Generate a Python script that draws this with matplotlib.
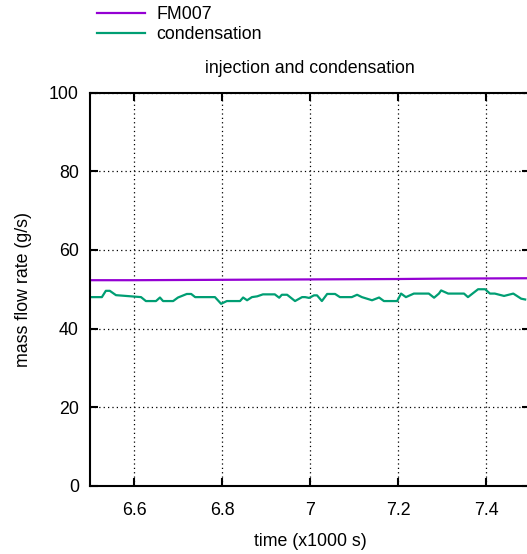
import matplotlib
matplotlib.use("Agg")
import matplotlib.pyplot as plt
from matplotlib.ticker import FixedLocator, FixedFormatter

plt.rcParams['font.family'] = ['Liberation Sans', 'DejaVu Sans']

# ---- data ----
fm007_t = [6.50, 6.60, 6.70, 6.80, 6.90, 7.00, 7.10, 7.20, 7.30, 7.40, 7.50]
fm007_v = [52.3, 52.3, 52.35, 52.4, 52.45, 52.5, 52.55, 52.6, 52.7, 52.75, 52.8]

cond_t = [6.500, 6.527, 6.536, 6.545, 6.559, 6.616, 6.627, 6.650, 6.659, 6.666,
          6.689, 6.700, 6.720, 6.730, 6.739, 6.784, 6.798, 6.811, 6.841, 6.848,
          6.857, 6.868, 6.880, 6.893, 6.920, 6.930, 6.936, 6.948, 6.966, 6.982,
          6.989, 6.998, 7.009, 7.016, 7.027, 7.039, 7.057, 7.068, 7.095, 7.107,
          7.118, 7.141, 7.157, 7.168, 7.198, 7.207, 7.218, 7.236, 7.270, 7.282,
          7.293, 7.298, 7.314, 7.350, 7.359, 7.382, 7.398, 7.409, 7.420, 7.441,
          7.462, 7.480, 7.489]
cond_v = [48.0, 48.0, 49.6, 49.6, 48.5, 48.0, 47.0, 47.0, 47.9, 47.0,
          47.0, 47.9, 48.8, 48.8, 48.0, 48.0, 46.3, 47.0, 47.0, 47.9,
          47.2, 48.0, 48.2, 48.7, 48.7, 47.85, 48.6, 48.6, 47.0, 48.0,
          48.0, 47.8, 48.45, 48.45, 47.0, 48.8, 48.8, 48.0, 48.0, 48.6,
          48.0, 47.2, 47.9, 47.0, 47.0, 48.9, 48.0, 48.9, 48.9, 47.85,
          48.9, 49.7, 48.9, 48.9, 48.0, 50.0, 50.0, 48.9, 48.9, 48.3,
          48.9, 47.6, 47.4]

x_ticks = [6.6, 6.8, 7.0, 7.2, 7.4]
x_tick_labels = ["6.6", "6.8", "7", "7.2", "7.4"]
y_ticks = [0, 20, 40, 60, 80, 100]
y_tick_labels = ["0", "20", "40", "60", "80", "100"]

W, H = 527, 554
fig = plt.figure(figsize=(W / 100, H / 100), dpi=100)
ax = fig.add_axes([90 / W, 1 - 486 / H, 440 / W, (486 - 92.5) / H])

fs = 12.8
l1, = ax.plot(fm007_t, fm007_v, color='#9400D3', lw=1.6, label='FM007')
l2, = ax.plot(cond_t, cond_v, color='#009E73', lw=1.6, label='condensation')

ax.set_xlim(6.5, 7.5)
ax.set_ylim(0, 100)
ax.xaxis.set_major_locator(FixedLocator(x_ticks))
ax.xaxis.set_major_formatter(FixedFormatter(x_tick_labels))
ax.yaxis.set_major_locator(FixedLocator(y_ticks))
ax.yaxis.set_major_formatter(FixedFormatter(y_tick_labels))

ax.tick_params(direction='in', length=6, width=1.5, top=True, right=True,
               labelsize=fs)
ax.tick_params(axis='x', pad=11.5)
ax.tick_params(axis='y', pad=8)
for s in ax.spines.values():
    s.set_linewidth(1.5)
ax.grid(True, color='black', linestyle=(0, (1, 2.5)), linewidth=0.9)

ax.set_xlabel('time (x1000 s)', fontsize=fs, labelpad=10)
ax.set_ylabel('mass flow rate (g/s)', fontsize=fs, labelpad=12)
ax.set_title('injection and condensation', fontsize=fs, pad=14)

fig.legend(handles=[l1, l2], loc='upper left',
           bbox_to_anchor=(92 / W, 1 - 1 / H), frameon=False,
           fontsize=fs, handlelength=2.7, handletextpad=0.6,
           labelspacing=0.17, borderaxespad=0, borderpad=0.3)

fig.savefig('out.png', dpi=100)
